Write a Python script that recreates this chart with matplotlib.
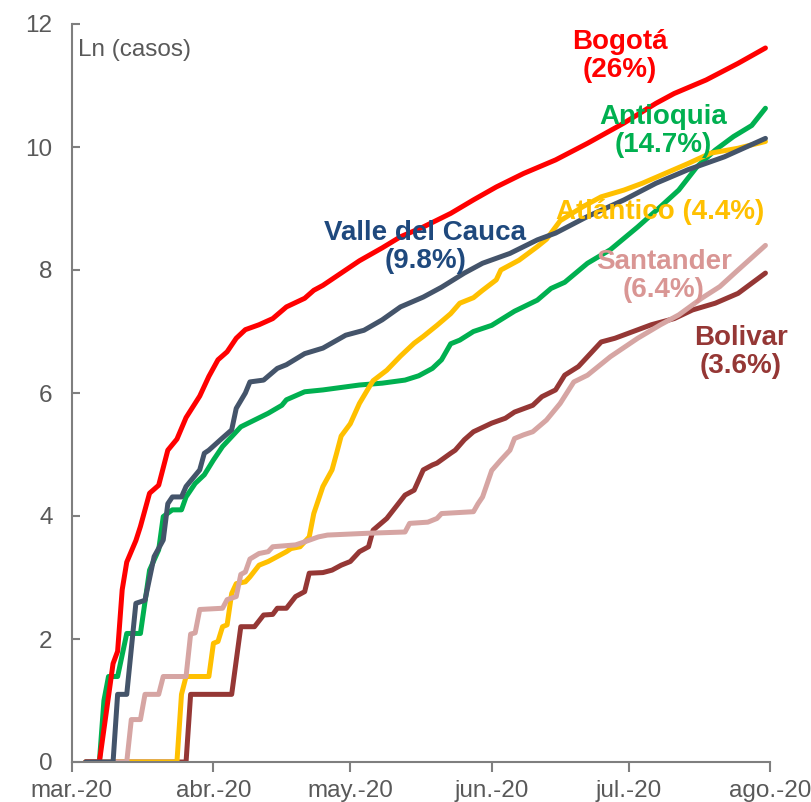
import pandas as pd
import matplotlib
matplotlib.use("Agg")
import matplotlib.pyplot as plt

plt.rcParams['font.family'] = ['Liberation Sans', 'DejaVu Sans']

# days counted from 1 March 2020, value = ln(cases)
bogota_days = [3, 6, 9, 10, 11, 12, 14, 15, 17, 19, 21, 23, 25, 28, 30, 32, 34, 36, 38, 41, 44, 47, 51,
               53, 55, 59, 63, 68, 72, 77, 83, 88, 93, 99, 106, 113, 121, 128, 132, 139, 146, 152]
bogota_vals = [0, 0, 1.6, 1.8, 2.8, 3.25, 3.6, 3.83, 4.37, 4.5, 5.07, 5.25, 5.6, 5.95, 6.27, 6.54, 6.67,
               6.89, 7.03, 7.11, 7.21, 7.4, 7.54, 7.67, 7.75, 7.95, 8.15, 8.36, 8.54, 8.7, 8.92, 9.14,
               9.35, 9.57, 9.79, 10.06, 10.39, 10.71, 10.87, 11.09, 11.36, 11.61]

antioquia_days = [3, 6, 7, 8, 10, 12, 15, 17, 19, 20, 22, 24, 25, 27, 29, 31, 33, 35, 37, 40, 43, 46, 47,
                  51, 55, 63, 68, 73, 76, 79, 81, 83, 85, 88, 92, 97, 102, 105, 108, 113, 118, 124, 129,
                  133, 137, 141, 145, 149, 152]
antioquia_vals = [0, 0, 1.0, 1.39, 1.39, 2.09, 2.09, 3.12, 3.45, 3.99, 4.1, 4.1, 4.31, 4.53, 4.67, 4.91,
                  5.13, 5.29, 5.45, 5.56, 5.67, 5.8, 5.89, 6.02, 6.05, 6.13, 6.16, 6.21, 6.28, 6.4, 6.54,
                  6.8, 6.86, 7.0, 7.1, 7.33, 7.51, 7.7, 7.8, 8.11, 8.33, 8.7, 9.03, 9.3, 9.68, 9.95,
                  10.17, 10.35, 10.63]

atlantico_days = [3, 23, 24, 25, 30, 31, 32, 33, 34, 35, 36, 38, 39, 41, 43, 45, 47, 48, 50, 52, 53, 55,
                  57, 58, 59, 61, 63, 65, 66, 69, 72, 75, 77, 80, 83, 85, 88, 90, 93, 94, 98, 102, 104,
                  107, 112, 116, 121, 125, 130, 135, 140, 146, 152]
atlantico_vals = [0, 0, 1.1, 1.39, 1.39, 1.93, 1.96, 2.2, 2.23, 2.74, 2.9, 2.93, 3.01, 3.2, 3.26, 3.34,
                  3.42, 3.47, 3.5, 3.66, 4.04, 4.48, 4.75, 5.02, 5.3, 5.5, 5.83, 6.08, 6.2, 6.37, 6.6,
                  6.81, 6.92, 7.1, 7.29, 7.46, 7.55, 7.67, 7.84, 8.0, 8.16, 8.38, 8.5, 8.8, 9.03, 9.19,
                  9.3, 9.41, 9.57, 9.73, 9.9, 9.98, 10.09]

santander_days = [3, 12, 13, 15, 16, 19, 20, 25, 26, 27, 28, 33, 34, 36, 37, 38, 39, 41, 43, 44, 49, 51,
                  54, 56, 65, 73, 74, 78, 80, 81, 88, 89, 90, 92, 94, 96, 97, 99, 101, 104, 107, 110,
                  113, 118, 124, 129, 133, 138, 142, 146, 152]
santander_vals = [0, 0, 0.69, 0.69, 1.1, 1.1, 1.39, 1.39, 2.08, 2.1, 2.48, 2.5, 2.64, 2.69, 3.05, 3.09,
                  3.3, 3.39, 3.42, 3.5, 3.53, 3.58, 3.66, 3.69, 3.72, 3.74, 3.88, 3.9, 3.96, 4.04, 4.07,
                  4.2, 4.31, 4.74, 4.91, 5.07, 5.26, 5.32, 5.37, 5.56, 5.83, 6.18, 6.29, 6.59, 6.89,
                  7.11, 7.27, 7.54, 7.73, 8.0, 8.4]

bolivar_days = [3, 25, 26, 35, 37, 40, 42, 44, 45, 47, 49, 51, 52, 55, 57, 59, 61, 63, 65, 66, 69, 71,
                73, 75, 77, 79, 80, 83, 84, 86, 88, 92, 95, 97, 101, 103, 106, 108, 111, 113, 116, 119,
                123, 127, 132, 136, 141, 146, 150, 152]
bolivar_vals = [0, 0, 1.1, 1.1, 2.2, 2.2, 2.39, 2.4, 2.5, 2.5, 2.69, 2.77, 3.07, 3.08, 3.12, 3.2, 3.26,
                3.42, 3.5, 3.77, 3.96, 4.15, 4.34, 4.42, 4.75, 4.83, 4.86, 5.02, 5.07, 5.24, 5.37, 5.51,
                5.59, 5.69, 5.8, 5.94, 6.05, 6.29, 6.43, 6.59, 6.83, 6.89, 7.0, 7.11, 7.21, 7.35, 7.46,
                7.62, 7.84, 7.95]

valle_days = [3, 9, 10, 12, 14, 16, 18, 20, 21, 22, 24, 25, 28, 29, 30, 33, 35, 36, 38, 39, 42, 45, 47,
              51, 55, 60, 64, 68, 72, 77, 81, 86, 90, 96, 99, 102, 106, 113, 121, 128, 135, 143, 152]
valle_vals = [0, 0, 1.1, 1.1, 2.58, 2.63, 3.34, 3.61, 4.2, 4.31, 4.31, 4.48, 4.75, 5.02, 5.07, 5.27, 5.4,
              5.75, 6.0, 6.18, 6.21, 6.4, 6.46, 6.64, 6.73, 6.94, 7.02, 7.19, 7.4, 7.56, 7.72, 7.95,
              8.11, 8.27, 8.38, 8.49, 8.6, 8.87, 9.14, 9.41, 9.63, 9.84, 10.14]

month_ticks = ['2020-03-01', '2020-04-01', '2020-05-01', '2020-06-01', '2020-07-01', '2020-08-01']
month_labels = ['mar.-20', 'abr.-20', 'may.-20', 'jun.-20', 'jul.-20', 'ago.-20']

start = pd.Timestamp('2020-03-01')


def to_dates(days):
    return [start + pd.Timedelta(days=d) for d in days]


gray = '#595959'
fig = plt.figure(figsize=(8.12, 8.02), dpi=100)
ax = fig.add_axes([72 / 812, 40 / 802, 698 / 812, 738 / 802])

# drawing order: later ones on top
series = [
    (bolivar_days, bolivar_vals, '#953735'),
    (antioquia_days, antioquia_vals, '#00B050'),
    (atlantico_days, atlantico_vals, '#FFC000'),
    (santander_days, santander_vals, '#D6A5A3'),
    (bogota_days, bogota_vals, '#FF0000'),
    (valle_days, valle_vals, '#44546A'),
]
for days, vals, col in series:
    ax.plot(to_dates(days), vals, color=col, lw=3.6, solid_joinstyle='round', solid_capstyle='round')

ax.set_xlim(start, pd.Timestamp('2020-08-01'))
ax.set_ylim(0, 12)
ax.set_yticks(range(0, 13, 2))
ax.set_xticks(pd.to_datetime(month_ticks))
ax.set_xticklabels(month_labels)

for side in ['top', 'right']:
    ax.spines[side].set_visible(False)
for side in ['left', 'bottom']:
    ax.spines[side].set_color('#7F7F7F')
    ax.spines[side].set_linewidth(1.5)
ax.tick_params(axis='y', direction='in', length=6, width=1.5, color='#7F7F7F',
               labelsize=17.5, labelcolor=gray, pad=14)
ax.tick_params(axis='x', direction='out', length=7, width=1.5, color='#7F7F7F',
               labelsize=17.5, labelcolor=gray, pad=6)
for lab in ax.get_xticklabels() + ax.get_yticklabels():
    lab.set_clip_on(False)

ax.text(0.009, 0.965, 'Ln (casos)', transform=ax.transAxes, fontsize=17.5, color=gray,
        ha='left', va='center')


def label(day, val, txt, col):
    ax.text(start + pd.Timedelta(days=day), val, txt, color=col, fontsize=20, fontweight='bold',
            ha='center', va='center', multialignment='center', linespacing=1.1)


label(120, 11.48, 'Bogotá\n(26%)', '#FF0000')
label(129.5, 10.26, 'Antioquia\n(14.7%)', '#00B050')
label(129, 8.94, 'Atlántico (4.4%)', '#FFC000')
label(77.4, 8.37, 'Valle del Cauca\n(9.8%)', '#1F497D')
label(129.7, 7.9, 'Santander\n(6.4%)', '#D99694')
label(146.6, 6.67, 'Bolivar\n(3.6%)', '#953735')

fig.savefig('out.png', dpi=100)
